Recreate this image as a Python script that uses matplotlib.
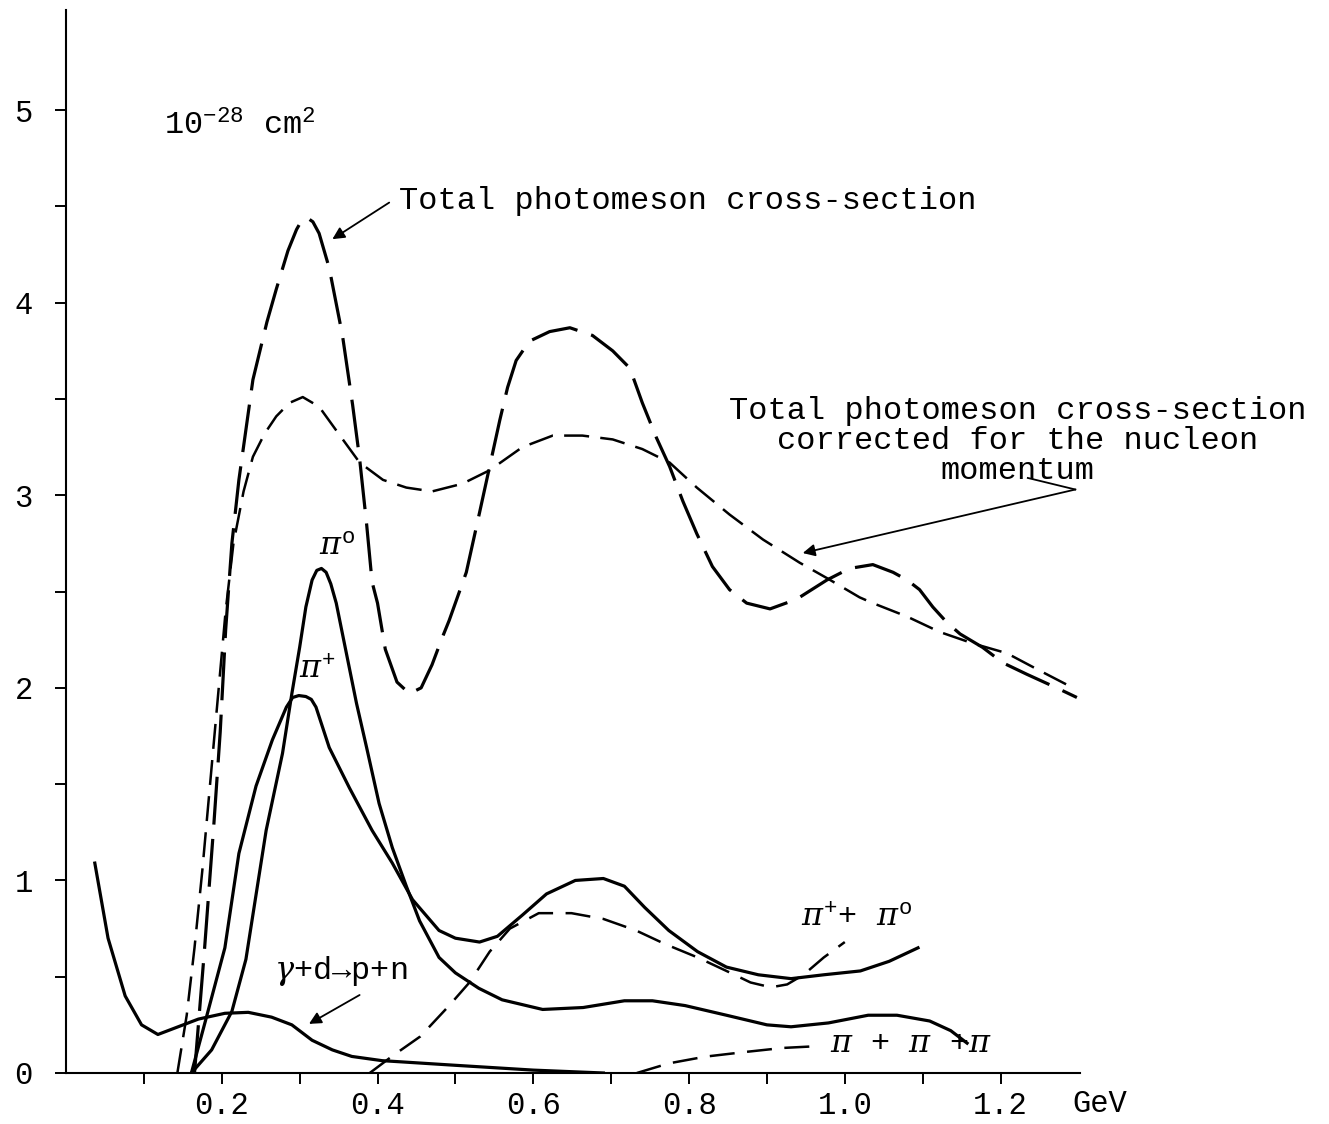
import matplotlib
matplotlib.use('Agg')
import matplotlib.pyplot as plt
from matplotlib.ticker import FixedLocator

plt.rcParams['font.family'] = ['Liberation Mono', 'DejaVu Sans Mono']
plt.rcParams['mathtext.fontset'] = 'custom'
plt.rcParams['mathtext.rm'] = 'Liberation Mono'
plt.rcParams['mathtext.it'] = 'DejaVu Serif:italic'
plt.rcParams['mathtext.bf'] = 'Liberation Mono:bold'

# total photomeson cross-section (long dashes)
total_x = [0.165, 0.178, 0.19, 0.198, 0.205, 0.213, 0.222, 0.24, 0.258, 0.27, 0.285, 0.296,
           0.303, 0.31, 0.317, 0.325, 0.338, 0.355, 0.368, 0.377, 0.386, 0.393, 0.40, 0.41,
           0.425, 0.441, 0.456, 0.47, 0.483, 0.492, 0.514, 0.531, 0.544, 0.557, 0.567, 0.578,
           0.595, 0.621, 0.647, 0.676, 0.702, 0.724, 0.74, 0.758, 0.775, 0.792, 0.81, 0.83,
           0.852, 0.874, 0.904, 0.938, 0.977, 1.006, 1.036, 1.062, 1.08, 1.096, 1.113, 1.131,
           1.148, 1.177, 1.203, 1.234, 1.272, 1.298]
total_y = [0.0, 0.65, 1.30, 1.77, 2.30, 2.75, 3.08, 3.60, 3.90, 4.07, 4.27, 4.38,
           4.43, 4.44, 4.42, 4.36, 4.18, 3.83, 3.47, 3.19, 2.85, 2.55, 2.44, 2.20,
           2.03, 1.97, 2.00, 2.12, 2.26, 2.35, 2.60, 2.91, 3.15, 3.39, 3.56, 3.70,
           3.80, 3.85, 3.87, 3.83, 3.75, 3.66, 3.48, 3.30, 3.15, 2.97, 2.80, 2.63,
           2.51, 2.44, 2.41, 2.46, 2.56, 2.62, 2.64, 2.60, 2.56, 2.51, 2.42, 2.34,
           2.28, 2.21, 2.13, 2.07, 2.00, 1.95]

# corrected for nucleon momentum (short dashes)
corr_x = [0.143, 0.155, 0.165, 0.175, 0.185, 0.195, 0.205, 0.215, 0.228, 0.24, 0.255, 0.27,
          0.287, 0.304, 0.325, 0.35, 0.377, 0.407, 0.437, 0.47, 0.509, 0.544, 0.586, 0.625,
          0.663, 0.702, 0.74, 0.775, 0.81, 0.852, 0.895, 0.942, 0.977, 1.019, 1.036, 1.08,
          1.122, 1.165, 1.208, 1.25, 1.293]
corr_y = [0.0, 0.30, 0.65, 1.05, 1.50, 1.95, 2.40, 2.75, 3.02, 3.20, 3.32, 3.41,
          3.48, 3.51, 3.46, 3.32, 3.17, 3.08, 3.04, 3.02, 3.06, 3.13, 3.25, 3.31,
          3.31, 3.29, 3.24, 3.17, 3.04, 2.90, 2.77, 2.65, 2.57, 2.47, 2.44, 2.37,
          2.29, 2.23, 2.18, 2.09, 2.00]

# pi+ (solid)
pip_x = [0.161, 0.179, 0.204, 0.222, 0.244, 0.265, 0.283, 0.291, 0.299, 0.308, 0.315, 0.321,
         0.338, 0.364, 0.393, 0.419, 0.445, 0.479, 0.50, 0.531, 0.554, 0.586, 0.617, 0.654,
         0.69, 0.717, 0.743, 0.774, 0.811, 0.848, 0.889, 0.931, 0.973, 1.02, 1.057, 1.094]
pip_y = [0.0, 0.27, 0.65, 1.14, 1.49, 1.73, 1.90, 1.95, 1.96, 1.955, 1.94, 1.90,
         1.69, 1.48, 1.26, 1.09, 0.90, 0.74, 0.70, 0.68, 0.71, 0.82, 0.93, 1.00,
         1.01, 0.97, 0.86, 0.74, 0.63, 0.55, 0.51, 0.49, 0.51, 0.53, 0.58, 0.65]

# pi0 (solid)
pi0_x = [0.161, 0.187, 0.213, 0.231, 0.257, 0.278, 0.29, 0.30, 0.308, 0.316, 0.322, 0.328,
         0.334, 0.34, 0.347, 0.36, 0.373, 0.386, 0.402, 0.419, 0.437, 0.454, 0.479, 0.50,
         0.53, 0.56, 0.612, 0.664, 0.717, 0.753, 0.795, 0.848, 0.90, 0.931, 0.979, 1.03,
         1.067, 1.109, 1.136, 1.157]
pi0_y = [0.0, 0.12, 0.32, 0.59, 1.26, 1.66, 1.97, 2.21, 2.42, 2.56, 2.61, 2.62,
         2.60, 2.54, 2.44, 2.18, 1.92, 1.69, 1.40, 1.17, 0.97, 0.79, 0.60, 0.52,
         0.44, 0.38, 0.33, 0.34, 0.375, 0.375, 0.35, 0.30, 0.25, 0.24, 0.26, 0.30,
         0.30, 0.27, 0.22, 0.155]

# gamma + d -> p + n (solid)
gd_x = [0.037, 0.054, 0.076, 0.097, 0.118, 0.144, 0.17, 0.204, 0.234, 0.264, 0.29,
        0.316, 0.342, 0.367, 0.406, 0.43, 0.50, 0.60, 0.69]
gd_y = [1.09, 0.70, 0.40, 0.25, 0.20, 0.24, 0.28, 0.31, 0.315, 0.29, 0.25,
        0.17, 0.12, 0.086, 0.064, 0.058, 0.04, 0.015, 0.0]

# pi+ + pi0 (dashed)
pp0_x = [0.39, 0.418, 0.455, 0.492, 0.518, 0.544, 0.57, 0.607, 0.649, 0.69, 0.732,
         0.769, 0.811, 0.848, 0.879, 0.905, 0.926, 0.947, 0.973, 1.0]
pp0_y = [0.0, 0.085, 0.19, 0.35, 0.47, 0.63, 0.75, 0.83, 0.83, 0.80, 0.74,
         0.67, 0.60, 0.53, 0.47, 0.445, 0.46, 0.51, 0.60, 0.68]

# pi + pi + pi (dashed)
ppp_x = [0.733, 0.774, 0.821, 0.874, 0.92, 0.968]
ppp_y = [0.0, 0.05, 0.085, 0.11, 0.13, 0.14]

fig = plt.figure(figsize=(13.29, 11.24), dpi=100)
ax = fig.add_axes([66 / 1329, 51 / 1124, 1014 / 1329, 1063 / 1124])

ax.plot(total_x, total_y, color='black', lw=2.3, dashes=(15, 4.5))
ax.plot(corr_x, corr_y, color='black', lw=1.8, dashes=(10, 4.5))
ax.plot(pip_x, pip_y, color='black', lw=2.3)
ax.plot(pi0_x, pi0_y, color='black', lw=2.3)
ax.plot(gd_x, gd_y, color='black', lw=2.3)
ax.plot(pp0_x, pp0_y, color='black', lw=1.8, dashes=(10, 5))
ax.plot(ppp_x, ppp_y, color='black', lw=1.8, dashes=(10, 5))

ax.set_xlim(0, 1.302)
ax.set_ylim(0, 5.52)
for s in ['top', 'right']:
    ax.spines[s].set_visible(False)
for s in ['left', 'bottom']:
    ax.spines[s].set_linewidth(1.5)

ax.xaxis.set_major_locator(FixedLocator([0.2, 0.4, 0.6, 0.8, 1.0, 1.2]))
ax.xaxis.set_minor_locator(FixedLocator([0.1, 0.3, 0.5, 0.7, 0.9, 1.1]))
ax.set_xticklabels(['0.2', '0.4', '0.6', '0.8', '1.0', '1.2'])
ax.yaxis.set_major_locator(FixedLocator([0, 1, 2, 3, 4, 5]))
ax.yaxis.set_minor_locator(FixedLocator([0.5, 1.5, 2.5, 3.5, 4.5]))
ax.set_yticklabels(['0', '1', '2', '3', '4', '5'])
ax.tick_params(axis='both', which='both', direction='out', length=8, width=1.4)
ax.tick_params(axis='x', which='major', labelsize=22, pad=5)
ax.tick_params(axis='y', which='major', labelsize=22, pad=16)

fs = 23
arrow = dict(arrowstyle='-|>', lw=1.3, color='black', mutation_scale=18, shrinkA=0, shrinkB=0)

ax.text(1.328, -0.16, 'GeV', fontsize=22, ha='center', va='center', clip_on=False)
ax.text(0.126, 4.87, '10$^{-28}$ cm$^{2}$', fontsize=fs, ha='left', va='baseline')

ax.annotate('', xy=(0.342, 4.33), xytext=(0.415, 4.52), arrowprops=arrow)
ax.text(0.428, 4.53, 'Total photomeson cross-section', fontsize=fs, ha='left', va='center')

ax.text(1.222, 3.28, 'Total photomeson cross-section\ncorrected for the nucleon\nmomentum',
        fontsize=fs, ha='center', va='center', linespacing=1.0, clip_on=False)
ax.plot([1.235, 1.296], [3.09, 3.03], color='black', lw=1.3, clip_on=False)
ax.annotate('', xy=(0.946, 2.70), xytext=(1.296, 3.03), arrowprops=arrow)

ax.text(0.348, 2.73, r'$\pi^{\mathrm{o}}$', fontsize=fs, ha='center', va='center')
ax.text(0.323, 2.09, r'$\pi^{+}$', fontsize=fs, ha='center', va='center')
ax.text(0.353, 0.53, r'$\gamma$+d→p+n', fontsize=fs, ha='center', va='center')
ax.annotate('', xy=(0.312, 0.255), xytext=(0.377, 0.405), arrowprops=arrow)
ax.text(1.015, 0.80, r'$\pi^{+}$+ $\pi^{\mathrm{o}}$', fontsize=fs, ha='center', va='center')
ax.text(0.981, 0.15, r'$\pi$ + $\pi$ +$\pi$', fontsize=fs, ha='left', va='center')

fig.savefig('out.png', dpi=100)
